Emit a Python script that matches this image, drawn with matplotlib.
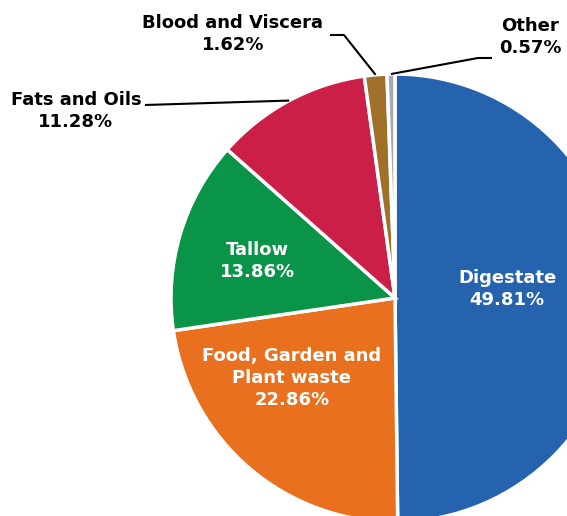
import numpy as np
import matplotlib.pyplot as plt

plt.rcParams['font.family'] = ['DejaVu Sans']

labels = ['Digestate', 'Food, Garden and\nPlant waste', 'Tallow', 'Fats and Oils',
          'Blood and Viscera', 'Other']
shares = [49.81, 22.86, 13.86, 11.28, 1.62, 0.57]
colors = ['#2563ae', '#e8701e', '#0a9447', '#cc1f47', '#a0702a', '#a7abb1']

W, H = 567, 516
cx, cy, R = 395, H - 298, 224

fig = plt.figure(figsize=(W / 100, H / 100), dpi=100)
ax = fig.add_axes([0, 0, 1, 1])

wedges, _ = ax.pie(shares, colors=colors, startangle=90, counterclock=False,
                   center=(cx, cy), radius=R,
                   wedgeprops=dict(edgecolor='white', linewidth=2.5))

ax.set_xlim(0, W)
ax.set_ylim(0, H)
ax.set_aspect('equal')
ax.axis('off')

# inside labels (image pixel positions of text centres)
inside = {0: (507, 289), 1: (292, 378), 2: (257, 261)}
for i, (x, y) in inside.items():
    ax.text(x, H - y, f'{labels[i]}\n{shares[i]:.2f}%', color='white',
            fontsize=13, fontweight='bold', ha='center', va='center',
            linespacing=1.28)

# outside labels with leader lines: text centre, line path start -> elbow
outside = {
    3: ((76, 111), [(145, 105)]),
    4: ((233, 34), [(330, 35), (344, 35)]),
    5: ((530, 37), [(492, 58), (478, 58)]),
}
for i, ((tx, ty), path) in outside.items():
    w = wedges[i]
    mid = np.deg2rad((w.theta1 + w.theta2) / 2)
    ax_, ay_ = cx + R * np.cos(mid), cy + R * np.sin(mid)
    xs = [p[0] for p in path] + [ax_]
    ys = [H - p[1] for p in path] + [ay_]
    ax.plot(xs, ys, color='black', linewidth=1.5, solid_capstyle='butt')
    ax.text(tx, H - ty, f'{labels[i]}\n{shares[i]:.2f}%', color='black',
            fontsize=13, fontweight='bold', ha='center', va='center',
            linespacing=1.28)

fig.savefig('out.png', dpi=100)
